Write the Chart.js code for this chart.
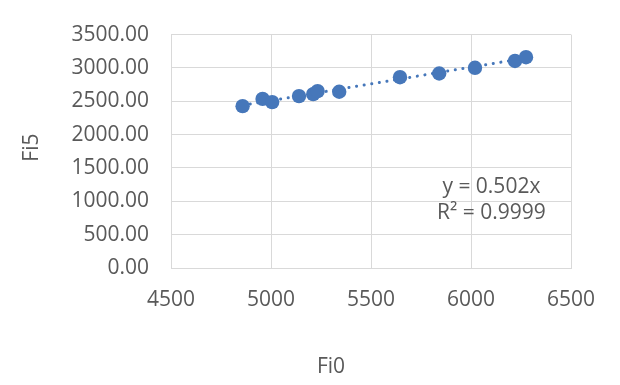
<!DOCTYPE html>
<html>
<head>
<meta charset="utf-8">
<script src="https://cdn.jsdelivr.net/npm/chart.js@4/dist/chart.umd.min.js"></script>
<style>
html,body{margin:0;padding:0;background:#fff;}
#wrap{width:620px;height:385px;position:relative;}
</style>
</head>
<body>
<div id="wrap"><canvas id="c" width="620" height="385"></canvas></div>
<script>
const fi0 = [4858, 4958, 5006, 5140, 5211, 5233, 5341, 5645, 5841, 6020, 6220, 6275];
const fi5 = [2427, 2536, 2488, 2578, 2607, 2653, 2643, 2861, 2917, 3002, 3105, 3161];
const slope = 0.502;
const equationLines = ['y = 0.502x', 'R² = 0.9999'];
const xTitle = 'Fi0';
const yTitle = 'Fi5';

const points = fi0.map((x, i) => ({x: x, y: fi5[i]}));
const xMin = Math.min(...fi0), xMax = Math.max(...fi0);
const trend = [{x: xMin, y: slope * xMin}, {x: xMax, y: slope * xMax}];

const FONT = "'Open Sans', sans-serif";
const FS = 21;
const TXT = '#595959';
const BLUE = '#4677ba';
const GRID = '#d9d9d9';

const textPlugin = {
  id: 'texts',
  afterDatasetsDraw(chart) {
    const {ctx, chartArea, scales: {x, y}} = chart;
    ctx.save();
    ctx.fillStyle = TXT;
    ctx.font = FS + "px " + FONT;
    ctx.textAlign = 'center';
    ctx.textBaseline = 'middle';
    // trendline equation
    const cx = x.getPixelForValue(6102);
    ctx.fillText(equationLines[0], cx, y.getPixelForValue(1210));
    ctx.fillText(equationLines[1], cx, y.getPixelForValue(825));
    // axis titles
    ctx.fillText(xTitle, chartArea.left + 160, chartArea.bottom + 99);
    ctx.save();
    ctx.translate(chartArea.left - 139, chartArea.top + 113);
    ctx.rotate(-Math.PI / 2);
    ctx.fillText(yTitle, 0, 0);
    ctx.restore();
    ctx.restore();
  }
};

new Chart(document.getElementById('c'), {
  type: 'scatter',
  data: {
    datasets: [
      {
        label: 'Linear (Fi5)',
        data: trend,
        showLine: true,
        borderColor: BLUE,
        borderWidth: 3,
        borderDash: [0.1, 7.6],
        borderCapStyle: 'round',
        pointRadius: 0,
        fill: false,
        order: 2
      },
      {
        label: 'Fi5',
        data: points,
        backgroundColor: BLUE,
        borderColor: BLUE,
        pointRadius: 7.2,
        pointBorderWidth: 0,
        order: 1
      }
    ]
  },
  options: {
    responsive: false,
    animation: false,
    devicePixelRatio: 1,
    layout: {padding: {left: 0, right: 49, top: 20, bottom: 0}},
    plugins: {legend: {display: false}, tooltip: {enabled: false}},
    scales: {
      x: {
        type: 'linear',
        min: 4500, max: 6500,
        ticks: {stepSize: 500, color: TXT, font: {family: FONT, size: FS}, padding: 19, maxRotation: 0,
          callback: v => String(v)},
        grid: {color: GRID, lineWidth: 1, drawTicks: false},
        border: {color: GRID},
        afterFit(s) { s.height = 117; }
      },
      y: {
        type: 'linear',
        min: 0, max: 3500,
        ticks: {stepSize: 500, color: TXT, font: {family: FONT, size: FS}, padding: 22,
          callback: v => Number(v).toFixed(2)},
        grid: {color: GRID, lineWidth: 1, drawTicks: false},
        border: {color: GRID},
        afterFit(s) { s.width = 171; }
      }
    }
  },
  plugins: [textPlugin]
});
</script>
</body>
</html>
